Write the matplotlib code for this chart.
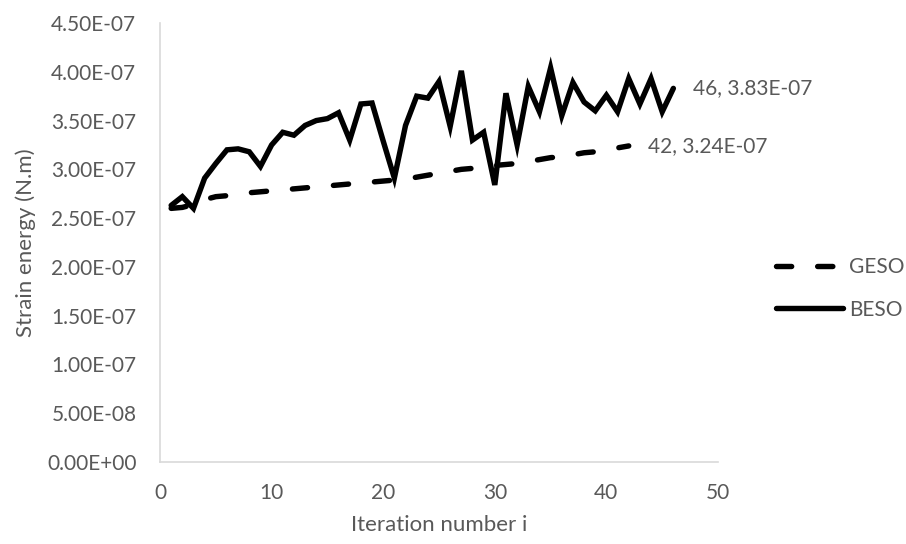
import matplotlib.pyplot as plt
from matplotlib.ticker import FuncFormatter

# Strain energy per iteration (N.m)
beso_iter = list(range(1, 47))
beso_energy = [2.63e-7, 2.72e-7, 2.60e-7, 2.91e-7, 3.06e-7, 3.20e-7, 3.21e-7, 3.18e-7,
               3.03e-7, 3.25e-7, 3.38e-7, 3.35e-7, 3.45e-7, 3.50e-7, 3.52e-7, 3.58e-7,
               3.30e-7, 3.67e-7, 3.68e-7, 3.29e-7, 2.91e-7, 3.45e-7, 3.75e-7, 3.73e-7,
               3.90e-7, 3.44e-7, 4.01e-7, 3.30e-7, 3.38e-7, 2.84e-7, 3.78e-7, 3.25e-7,
               3.85e-7, 3.59e-7, 4.04e-7, 3.55e-7, 3.89e-7, 3.69e-7, 3.60e-7, 3.76e-7,
               3.59e-7, 3.93e-7, 3.67e-7, 3.93e-7, 3.59e-7, 3.83e-7]

geso_iter = list(range(1, 43))
geso_energy = [2.60e-7, 2.61e-7, 2.64e-7, 2.69e-7, 2.72e-7, 2.73e-7, 2.74e-7, 2.76e-7,
               2.77e-7, 2.78e-7, 2.79e-7, 2.80e-7, 2.81e-7, 2.82e-7, 2.83e-7, 2.84e-7,
               2.85e-7, 2.86e-7, 2.87e-7, 2.88e-7, 2.89e-7, 2.90e-7, 2.92e-7, 2.94e-7,
               2.96e-7, 2.98e-7, 3.00e-7, 3.01e-7, 3.03e-7, 3.04e-7, 3.05e-7, 3.06e-7,
               3.08e-7, 3.10e-7, 3.12e-7, 3.13e-7, 3.15e-7, 3.17e-7, 3.18e-7, 3.20e-7,
               3.22e-7, 3.24e-7]

x_ticks = [0, 10, 20, 30, 40, 50]
y_ticks = [i * 0.5e-7 for i in range(10)]

plt.rcParams['font.family'] = ['Lato', 'DejaVu Sans']
grey = '#595959'

fig = plt.figure(figsize=(9.06, 5.44), dpi=100)
ax = fig.add_axes([0.1766, 0.1507, 0.6159, 0.807])

geso_line, = ax.plot(geso_iter, geso_energy, color='black', lw=3.9,
                     dashes=(2.8, 4.8), dash_capstyle='round', solid_capstyle='round',
                     label='GESO')
beso_line, = ax.plot(beso_iter, beso_energy, color='black', lw=3.9,
                     solid_joinstyle='miter', solid_capstyle='round', label='BESO')

# Value labels on the last points
ax.annotate(f'{beso_iter[-1]}, {beso_energy[-1]:.2E}', (beso_iter[-1], beso_energy[-1]),
            xytext=(14, 0), textcoords='offset points', va='center', ha='left',
            fontsize=15, color=grey)
ax.annotate(f'{geso_iter[-1]}, {geso_energy[-1]:.2E}', (geso_iter[-1], geso_energy[-1]),
            xytext=(14, 0), textcoords='offset points', va='center', ha='left',
            fontsize=15, color=grey)

ax.set_xlim(0, 50)
ax.set_ylim(0, 4.5e-7)
ax.set_xticks(x_ticks)
ax.set_yticks(y_ticks)
ax.yaxis.set_major_formatter(FuncFormatter(lambda v, p: f'{v:.2E}'))
ax.tick_params(length=0, labelsize=15, labelcolor=grey)
ax.tick_params(axis='y', pad=17)
ax.tick_params(axis='x', pad=15)

for side in ['top', 'right']:
    ax.spines[side].set_visible(False)
for side in ['left', 'bottom']:
    ax.spines[side].set_color('#d9d9d9')
    ax.spines[side].set_linewidth(1.2)

ax.set_xlabel('Iteration number i', fontsize=16, color=grey, labelpad=9)
ax.set_ylabel('Strain energy (N.m)', fontsize=16, color=grey, labelpad=8)

fig.legend(handles=[geso_line, beso_line], loc='center left',
           bbox_to_anchor=(0.836, 0.47), frameon=False, fontsize=15,
           labelcolor=grey, handlelength=3.2, handletextpad=0.3,
           labelspacing=1.1)

fig.savefig('out.png', dpi=100)
